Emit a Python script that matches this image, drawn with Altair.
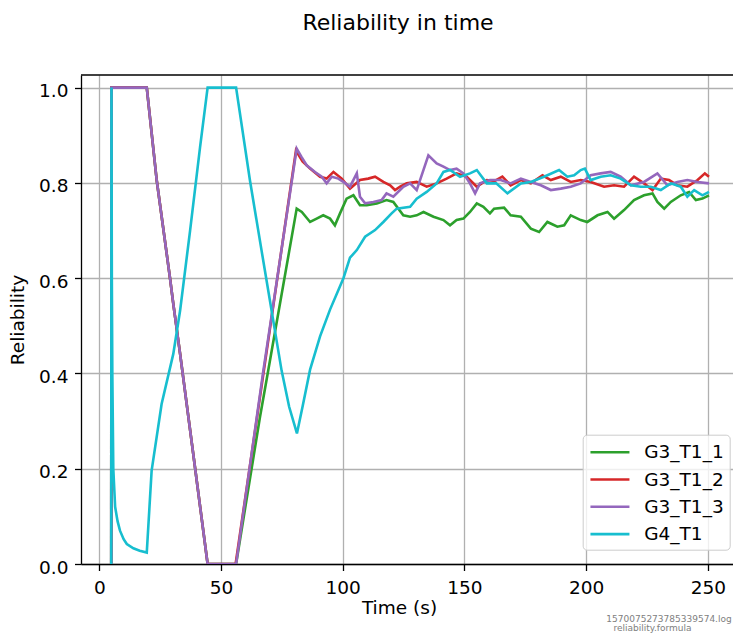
import altair as alt
import pandas as pd

names = ["G3_T1_1", "G3_T1_2", "G3_T1_3", "G4_T1"]
colors = ["#2ca02c", "#d62728", "#9467bd", "#17becf"]

t_g31 = [4.9, 5.0, 19.5, 23.6, 29.0, 30.4, 33.2, 38.6, 44.5, 56.2, 66.0, 69.4, 81.1, 83.2, 86.6, 89.3, 92.0, 94.8, 96.8, 98.9,
         101.6, 104.4, 107.1, 109.9, 114.0, 118.0, 120.8, 124.9, 127.7, 130.4, 133.2, 137.3, 141.4, 144.1, 146.8, 149.6,
         152.3, 155.1, 157.8, 160.5, 162.2, 166.3, 169.0, 173.2, 177.3, 180.7, 184.1, 188.2, 191.0, 193.7, 197.8, 200.5,
         204.7, 208.8, 211.5, 215.6, 219.7, 223.8, 227.3, 229.3, 232.1, 234.8, 238.9, 242.3, 245.1, 247.8, 250.5]
v_g31 = [0, 1.0, 1.0, 0.805, 0.602, 0.546, 0.441, 0.231, 0.0, 0.0, 0.308, 0.406, 0.746, 0.739, 0.718, 0.725, 0.732, 0.725, 0.711, 0.736,
         0.767, 0.774, 0.753, 0.753, 0.757, 0.764, 0.760, 0.732, 0.729, 0.732, 0.739, 0.729, 0.722, 0.711, 0.722, 0.725,
         0.739, 0.757, 0.750, 0.736, 0.746, 0.748, 0.732, 0.729, 0.704, 0.697, 0.718, 0.708, 0.711, 0.732, 0.722, 0.718,
         0.732, 0.739, 0.725, 0.743, 0.764, 0.774, 0.778, 0.760, 0.746, 0.760, 0.774, 0.781, 0.764, 0.767, 0.774]

t_g32 = [4.9, 5.0, 19.5, 23.6, 29.0, 30.4, 33.2, 38.6, 44.5, 56.0, 80.8, 83.5, 86.6, 90.7, 93.4, 96.2, 99.6, 103.0, 107.1, 110.5,
         113.3, 116.7, 119.5, 121.5, 123.6, 126.3, 130.4, 134.5, 138.6, 142.7, 146.8, 150.9, 155.1, 159.2, 162.5, 165.6,
         169.0, 173.2, 177.3, 182.1, 185.5, 189.6, 193.7, 197.8, 201.9, 207.4, 211.5, 215.6, 219.7, 223.8, 227.3, 230.7,
         234.1, 237.5, 241.6, 245.8, 248.8, 250.5]
v_g32 = [0, 1.0, 1.0, 0.805, 0.602, 0.546, 0.441, 0.231, 0.0, 0.0, 0.868, 0.845, 0.830, 0.813, 0.809, 0.823, 0.809, 0.788, 0.806, 0.809,
         0.813, 0.802, 0.795, 0.785, 0.792, 0.799, 0.802, 0.792, 0.799, 0.809, 0.820, 0.813, 0.792, 0.806, 0.804, 0.813,
         0.795, 0.806, 0.799, 0.816, 0.806, 0.813, 0.802, 0.806, 0.802, 0.792, 0.795, 0.792, 0.813, 0.799, 0.785, 0.809,
         0.806, 0.795, 0.792, 0.806, 0.820, 0.813]

t_g33 = [4.9, 5.0, 19.5, 23.6, 29.0, 30.4, 33.2, 38.6, 44.5, 56.2, 67.4, 81.1, 83.0, 85.2, 88.6, 91.4, 93.4, 95.5, 98.2, 100.3,
         103.0, 105.8, 107.1, 109.2, 112.6, 116.0, 118.0, 120.8, 124.9, 127.7, 130.4, 135.2, 138.6, 141.4, 144.1, 146.8,
         149.6, 152.3, 154.4, 156.4, 160.5, 164.9, 169.0, 173.2, 177.3, 181.4, 185.5, 189.6, 193.7, 197.8, 201.9, 206.0,
         210.1, 214.2, 218.4, 223.8, 229.3, 233.4, 237.5, 241.6, 245.8, 250.5]
v_g33 = [0, 1.0, 1.0, 0.805, 0.602, 0.546, 0.441, 0.231, 0.0, 0.0, 0.406, 0.872, 0.855, 0.837, 0.823, 0.813, 0.799, 0.813, 0.809, 0.802,
         0.792, 0.820, 0.771, 0.757, 0.760, 0.764, 0.778, 0.771, 0.792, 0.799, 0.785, 0.858, 0.841, 0.834, 0.827, 0.830,
         0.820, 0.799, 0.778, 0.799, 0.806, 0.806, 0.799, 0.809, 0.802, 0.795, 0.785, 0.788, 0.792, 0.799, 0.816, 0.820,
         0.823, 0.813, 0.795, 0.802, 0.820, 0.795, 0.802, 0.806, 0.802, 0.799]

t_g4 = [4.9, 5.0, 5.15, 5.35, 5.75, 6.5, 7.5, 8.5, 10.0, 11.3, 14.0, 16.6, 19.5, 21.5, 25.6, 30.4, 33.2, 37.3, 41.4, 44.5,
        56.2, 61.9, 68.0, 74.9, 78.0, 81.2, 83.5, 86.6, 90.7, 94.8, 100.3, 103.0, 105.8, 109.2, 113.3, 116.7, 120.1, 122.2,
        127.7, 130.4, 134.5, 138.6, 141.4, 144.1, 148.2, 152.3, 155.1, 159.2, 163.1, 167.7, 173.2, 177.3, 182.7, 188.9,
        192.3, 195.1, 197.8, 199.5, 201.9, 206.0, 210.1, 214.2, 218.4, 222.5, 226.6, 230.7, 234.8, 238.9, 241.6, 244.4,
        247.8, 250.5]
v_g4 = [0, 1.0, 0.6, 0.4, 0.2, 0.12, 0.09, 0.07, 0.052, 0.042, 0.033, 0.028, 0.024, 0.196, 0.336, 0.441, 0.532, 0.700, 0.875, 1.0,
        1.0, 0.805, 0.617, 0.406, 0.33, 0.274, 0.33, 0.408, 0.478, 0.534, 0.600, 0.643, 0.659, 0.687, 0.701, 0.718, 0.736, 0.746,
        0.750, 0.767, 0.781, 0.799, 0.823, 0.827, 0.813, 0.820, 0.827, 0.799, 0.799, 0.778, 0.799, 0.802, 0.813, 0.827,
        0.813, 0.816, 0.827, 0.830, 0.806, 0.813, 0.816, 0.809, 0.795, 0.792, 0.792, 0.785, 0.799, 0.792, 0.771, 0.785,
        0.774, 0.781]

x_ticks = [0, 50, 100, 150, 200, 250]
y_ticks = [0.0, 0.2, 0.4, 0.6, 0.8, 1.0]
footer_lines = ["1570075273785339574.log", "reliability.formula"]

series = [(names[0], t_g31, v_g31), (names[1], t_g32, v_g32), (names[2], t_g33, v_g33), (names[3], t_g4, v_g4)]
rows = []
for name, ts, vs in series:
    assert len(ts) == len(vs), (name, len(ts), len(vs))
    for t, v in zip(ts, vs):
        rows.append({"series": name, "t": t, "v": v})
df = pd.DataFrame(rows)

W, H = 652, 489
FONT = "DejaVu Sans"

lines = alt.Chart(df).mark_line(strokeWidth=2.6, clip=True).encode(
    x=alt.X("t:Q", scale=alt.Scale(domain=[-7.52, 260.36], nice=False, zero=False),
            axis=alt.Axis(values=x_ticks, format="d", title="Time (s)", titleX=318, titleY=49,
                          titleBaseline="alphabetic", labelPadding=7.5)),
    y=alt.Y("v:Q", scale=alt.Scale(domain=[0, 1.0265], nice=False),
            axis=alt.Axis(values=y_ticks, format=".1f", title="Reliability", titleX=-57.7,
                          titleBaseline="alphabetic", labelPadding=6.5, labelOffset=3)),
    color=alt.Color("series:N", scale=alt.Scale(domain=names, range=colors),
                    legend=alt.Legend(title=None, orient="none", legendX=501.7, legendY=359.7,
                                      symbolType="M-1,0L3,0", symbolSize=380, symbolStrokeWidth=2.6,
                                      labelFont=FONT, labelFontSize=18.5, labelColor="#000000",
                                      labelOffset=32.5, rowPadding=6.3, padding=6,
                                      strokeColor="#cccccc", fillColor="rgba(255,255,255,0.8)",
                                      cornerRadius=4)),
    order=alt.Order("t:Q"),
)

top_rule = alt.Chart(pd.DataFrame({"k": [0]})).mark_rule(color="black", strokeWidth=1.3).encode(
    x=alt.value(0), x2=alt.value(W), y=alt.value(0)
)

foot1 = alt.Chart(pd.DataFrame({"txt": [footer_lines[0]]})).mark_text(
    font=FONT, fontSize=9, color="#808080", align="center", baseline="alphabetic"
).encode(x=alt.value(588), y=alt.value(547), text="txt:N")
foot2 = alt.Chart(pd.DataFrame({"txt": [footer_lines[1]]})).mark_text(
    font=FONT, fontSize=9, color="#808080", align="center", baseline="alphabetic"
).encode(x=alt.value(571.5), y=alt.value(556), text="txt:N")

chart = alt.layer(lines, top_rule, foot1, foot2).properties(
    width=W, height=H,
    title=alt.TitleParams("Reliability in time", font=FONT, fontSize=22, fontWeight="normal",
                          color="#000000", anchor="middle", dx=-9, offset=22.7, baseline="alphabetic"),
    padding={"left": 81, "top": 75, "right": 0, "bottom": 71},
    autosize=alt.AutoSizeParams(type="none"),
).configure_view(stroke=None).configure_axis(
    labelFont=FONT, labelFontSize=18.5, labelColor="#000000",
    titleFont=FONT, titleFontSize=18.5, titleFontWeight="normal", titleColor="#000000",
    domainColor="#000000", domainWidth=1.3, tickColor="#000000", tickWidth=1.3, tickSize=6.5,
    gridColor="#b0b0b0", gridWidth=1.3,
)

chart.save("out.html", embed_options={"renderer": "svg", "actions": False})
